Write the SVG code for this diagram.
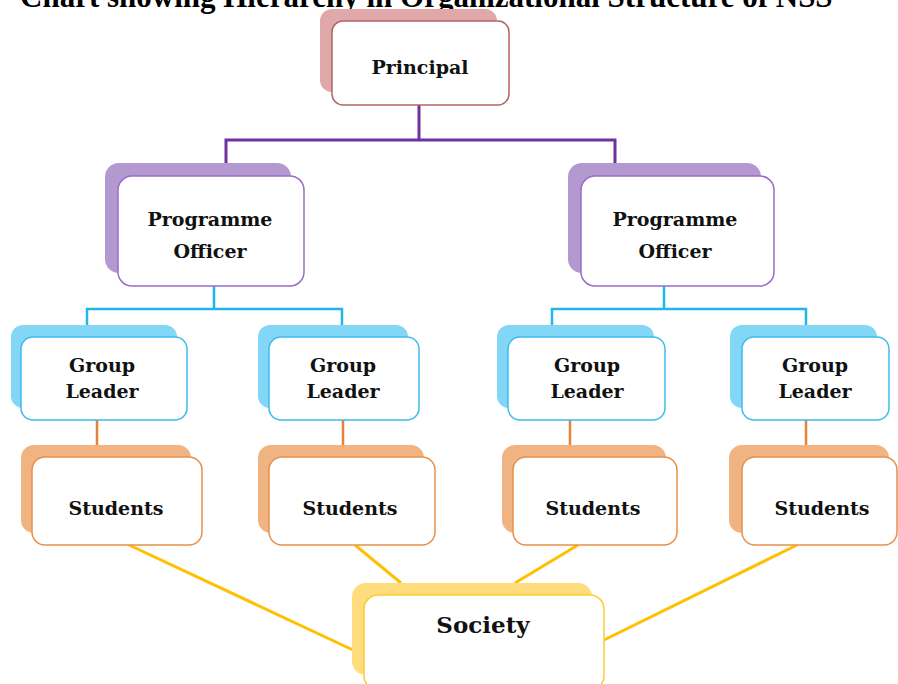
<svg xmlns="http://www.w3.org/2000/svg" width="898" height="684" viewBox="0 0 898 684">
<style>
.t{font-family:"DejaVu Serif",serif;font-weight:bold;font-size:19px;fill:#111;text-anchor:middle}
.title{font-family:"Liberation Serif","Times New Roman",serif;font-weight:bold;font-size:31px;fill:#000}
.front{fill:#fff;stroke-width:1.5}
.red .sh{fill:#e0a8a8}.red .front{stroke:#b46464}
.pur .sh{fill:#b498d0}.pur .front{stroke:#9a6cc8}
.blu .sh{fill:#82d6f6}.blu .front{stroke:#3cbcee}
.org .sh{fill:#f0b482}.org .front{stroke:#e8904a}
.yel .sh{fill:#ffdc7c}.yel .front{stroke:#ffcc30}
.c{fill:none}
</style>
<rect width="898" height="684" fill="#fff"/>
<text class="title" x="20" y="7">Chart showing Hierarchy in Organizational Structure of NSS</text>
<g id="connectors">
<path class="c" d="M419 105V140M226 163V140H615V163" stroke="#7030a0" stroke-width="3"/>
<path class="c" d="M214 286V309M87 325V309H342V325M664 286V309M552 325V309H806V325" stroke="#22b4ec" stroke-width="2.5"/>
<path class="c" d="M97 420V445M343 420V445M570 420V445M806 420V445" stroke="#e8823a" stroke-width="2.5"/>
<path class="c" d="M129 545L353 650M355 545L401 583M578 545L515 583M797 545L604 640" stroke="#ffc000" stroke-width="3"/>
</g>
<g id="principal" class="red">
<rect class="sh" x="320" y="9" width="177" height="83" rx="12"/>
<rect class="front" x="332" y="21" width="177" height="84" rx="11"/>
<text class="t" x="420" y="74">Principal</text>
</g>
<g id="po-left" class="pur">
<rect class="sh" x="105" y="163" width="186" height="110" rx="14"/>
<rect class="front" x="118" y="176" width="186" height="110" rx="14"/>
<text class="t" x="210" y="226">Programme</text>
<text class="t" x="210" y="258">Officer</text>
</g>
<g id="po-right" class="pur">
<rect class="sh" x="568" y="163" width="193" height="110" rx="14"/>
<rect class="front" x="581" y="176" width="193" height="110" rx="14"/>
<text class="t" x="675" y="226">Programme</text>
<text class="t" x="675" y="258">Officer</text>
</g>
<g id="gl1" class="blu">
<rect class="sh" x="11" y="325" width="166" height="83" rx="12"/>
<rect class="front" x="21" y="337" width="166" height="83" rx="12"/>
<text class="t" x="102" y="372">Group</text>
<text class="t" x="102" y="398">Leader</text>
</g>
<g id="gl2" class="blu">
<rect class="sh" x="258" y="325" width="150" height="83" rx="12"/>
<rect class="front" x="269" y="337" width="150" height="83" rx="12"/>
<text class="t" x="343" y="372">Group</text>
<text class="t" x="343" y="398">Leader</text>
</g>
<g id="gl3" class="blu">
<rect class="sh" x="497" y="325" width="157" height="83" rx="12"/>
<rect class="front" x="508" y="337" width="157" height="83" rx="12"/>
<text class="t" x="587" y="372">Group</text>
<text class="t" x="587" y="398">Leader</text>
</g>
<g id="gl4" class="blu">
<rect class="sh" x="730" y="325" width="147" height="83" rx="12"/>
<rect class="front" x="742" y="337" width="147" height="83" rx="12"/>
<text class="t" x="815" y="372">Group</text>
<text class="t" x="815" y="398">Leader</text>
</g>
<g id="st1" class="org">
<rect class="sh" x="21" y="445" width="170" height="88" rx="13"/>
<rect class="front" x="32" y="457" width="170" height="88" rx="13"/>
<text class="t" x="116" y="515">Students</text>
</g>
<g id="st2" class="org">
<rect class="sh" x="258" y="445" width="166" height="88" rx="13"/>
<rect class="front" x="269" y="457" width="166" height="88" rx="13"/>
<text class="t" x="350" y="515">Students</text>
</g>
<g id="st3" class="org">
<rect class="sh" x="502" y="445" width="164" height="88" rx="13"/>
<rect class="front" x="513" y="457" width="164" height="88" rx="13"/>
<text class="t" x="593" y="515">Students</text>
</g>
<g id="st4" class="org">
<rect class="sh" x="729" y="445" width="160" height="88" rx="13"/>
<rect class="front" x="742" y="457" width="155" height="88" rx="13"/>
<text class="t" x="822" y="515">Students</text>
</g>
<g id="society" class="yel">
<rect class="sh" x="352" y="583" width="240" height="92" rx="14"/>
<rect class="front" x="364" y="595" width="240" height="95" rx="14"/>
<text class="t" x="483" y="633" style="font-size:23px">Society</text>
</g>
</svg>
